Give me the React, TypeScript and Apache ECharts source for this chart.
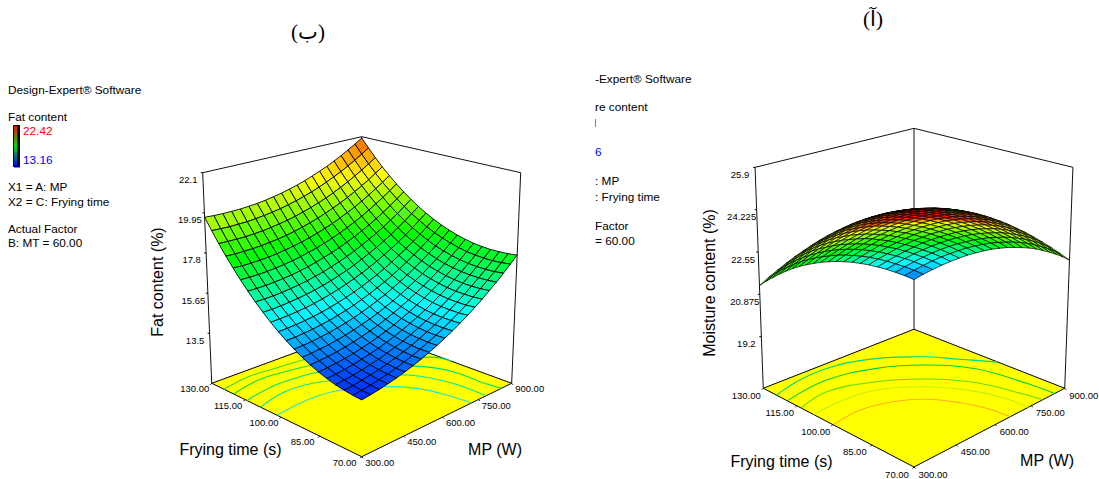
import React, { useEffect, useRef } from "react";
import * as echarts from "echarts";

const mpTicks = [300, 450, 600, 750, 900];
const timeTicks = [70, 85, 100, 115, 130];
const fatTicks = [13.5, 15.65, 17.8, 19.95, 22.1];
const moistureTicks = [19.2, 20.875, 22.55, 24.225, 25.9];

// rows: frying time 70 -> 130 s in 3 s steps; columns: MP 300 -> 900 W in 30 W steps
const fatContent = [
  [13.58,13.64,13.71,13.80,13.90,14.02,14.15,14.30,14.47,14.65,14.85,15.06,15.29,15.54,15.80,16.07,16.37,16.67,17.00,17.34,17.69],
  [13.61,13.66,13.73,13.81,13.91,14.02,14.16,14.30,14.46,14.64,14.83,15.04,15.27,15.51,15.76,16.03,16.32,16.62,16.94,17.28,17.63],
  [13.67,13.71,13.78,13.86,13.95,14.06,14.19,14.33,14.48,14.66,14.85,15.05,15.27,15.51,15.76,16.03,16.31,16.61,16.92,17.25,17.60],
  [13.75,13.80,13.85,13.93,14.02,14.12,14.25,14.38,14.53,14.70,14.89,15.09,15.30,15.53,15.78,16.04,16.32,16.62,16.93,17.25,17.59],
  [13.87,13.91,13.96,14.03,14.12,14.22,14.33,14.47,14.61,14.78,14.96,15.15,15.36,15.59,15.83,16.09,16.37,16.66,16.96,17.28,17.62],
  [14.01,14.05,14.10,14.16,14.24,14.34,14.45,14.58,14.72,14.88,15.06,15.25,15.46,15.68,15.92,16.17,16.44,16.73,17.03,17.34,17.67],
  [14.19,14.22,14.26,14.32,14.40,14.49,14.60,14.72,14.86,15.02,15.19,15.38,15.58,15.80,16.03,16.28,16.54,16.82,17.12,17.43,17.76],
  [14.39,14.42,14.46,14.51,14.59,14.67,14.78,14.90,15.03,15.18,15.35,15.53,15.73,15.94,16.17,16.41,16.67,16.95,17.24,17.55,17.87],
  [14.63,14.65,14.68,14.74,14.80,14.89,14.98,15.10,15.23,15.38,15.54,15.71,15.91,16.12,16.34,16.58,16.84,17.11,17.39,17.70,18.02],
  [14.89,14.90,14.94,14.98,15.05,15.12,15.22,15.33,15.45,15.60,15.75,15.93,16.11,16.32,16.54,16.77,17.03,17.29,17.58,17.87,18.19],
  [15.18,15.19,15.22,15.26,15.32,15.39,15.48,15.59,15.71,15.85,16.00,16.17,16.35,16.55,16.77,17.00,17.25,17.51,17.79,18.08,18.39],
  [15.50,15.51,15.53,15.57,15.62,15.69,15.78,15.88,16.00,16.13,16.28,16.44,16.62,16.81,17.03,17.25,17.49,17.75,18.03,18.32,18.62],
  [15.85,15.85,15.87,15.91,15.96,16.02,16.10,16.20,16.31,16.44,16.58,16.74,16.92,17.11,17.31,17.54,17.77,18.03,18.30,18.58,18.88],
  [16.23,16.23,16.24,16.27,16.32,16.38,16.45,16.55,16.65,16.78,16.92,17.07,17.24,17.43,17.63,17.85,18.08,18.33,18.59,18.88,19.17],
  [16.64,16.63,16.64,16.67,16.71,16.76,16.84,16.92,17.03,17.15,17.28,17.43,17.60,17.78,17.98,18.19,18.42,18.66,18.92,19.20,19.49],
  [17.08,17.07,17.07,17.09,17.13,17.18,17.25,17.33,17.43,17.54,17.67,17.82,17.98,18.16,18.35,18.56,18.79,19.03,19.28,19.55,19.84],
  [17.55,17.53,17.53,17.55,17.58,17.62,17.69,17.77,17.86,17.97,18.10,18.24,18.39,18.57,18.76,18.96,19.18,19.42,19.67,19.93,20.22],
  [18.04,18.02,18.02,18.03,18.06,18.10,18.16,18.23,18.32,18.43,18.55,18.69,18.84,19.01,19.19,19.39,19.61,19.84,20.08,20.35,20.62],
  [18.57,18.55,18.54,18.54,18.57,18.60,18.66,18.73,18.81,18.91,19.03,19.16,19.31,19.47,19.65,19.85,20.06,20.29,20.53,20.79,21.06],
  [19.13,19.10,19.08,19.09,19.10,19.14,19.19,19.25,19.33,19.43,19.54,19.67,19.81,19.97,20.15,20.34,20.54,20.77,21.00,21.26,21.53],
  [19.71,19.68,19.66,19.66,19.67,19.70,19.74,19.80,19.88,19.97,20.08,20.20,20.34,20.50,20.67,20.85,21.06,21.27,21.51,21.76,22.02],
];

const moistureContent = [
  [23.90,23.96,24.00,24.03,24.04,24.04,24.03,23.99,23.95,23.89,23.81,23.72,23.61,23.49,23.36,23.21,23.04,22.86,22.67,22.46,22.23],
  [23.91,23.97,24.02,24.06,24.08,24.08,24.07,24.05,24.01,23.95,23.89,23.80,23.70,23.59,23.46,23.32,23.16,22.98,22.79,22.59,22.37],
  [23.90,23.97,24.03,24.07,24.10,24.11,24.11,24.09,24.05,24.01,23.94,23.87,23.77,23.67,23.55,23.41,23.26,23.09,22.91,22.71,22.50],
  [23.88,23.95,24.02,24.07,24.10,24.12,24.12,24.11,24.09,24.05,23.99,23.92,23.83,23.73,23.62,23.49,23.34,23.18,23.01,22.82,22.61],
  [23.84,23.92,23.99,24.05,24.09,24.12,24.13,24.12,24.10,24.07,24.02,23.96,23.88,23.78,23.68,23.55,23.41,23.26,23.09,22.91,22.71],
  [23.79,23.88,23.95,24.02,24.06,24.10,24.11,24.12,24.10,24.08,24.04,23.98,23.91,23.82,23.72,23.60,23.47,23.32,23.16,22.99,22.80],
  [23.72,23.82,23.90,23.97,24.02,24.06,24.09,24.10,24.09,24.07,24.04,23.99,23.92,23.84,23.75,23.64,23.51,23.37,23.22,23.05,22.86],
  [23.64,23.74,23.83,23.91,23.97,24.02,24.05,24.06,24.06,24.05,24.02,23.98,23.92,23.85,23.76,23.66,23.54,23.41,23.26,23.10,22.92],
  [23.54,23.65,23.75,23.83,23.90,23.95,23.99,24.01,24.02,24.01,23.99,23.96,23.90,23.84,23.76,23.66,23.55,23.42,23.28,23.13,22.96],
  [23.43,23.55,23.65,23.74,23.82,23.88,23.92,23.95,23.96,23.96,23.95,23.92,23.87,23.82,23.74,23.65,23.55,23.43,23.29,23.15,22.98],
  [23.30,23.43,23.54,23.63,23.72,23.78,23.83,23.87,23.89,23.90,23.89,23.87,23.83,23.78,23.71,23.63,23.53,23.42,23.29,23.15,22.99],
  [23.16,23.29,23.41,23.51,23.60,23.68,23.73,23.78,23.80,23.82,23.82,23.80,23.77,23.72,23.66,23.59,23.50,23.39,23.27,23.14,22.99],
  [23.00,23.14,23.27,23.38,23.47,23.55,23.62,23.67,23.70,23.72,23.73,23.72,23.69,23.66,23.60,23.53,23.45,23.35,23.24,23.11,22.96],
  [22.83,22.98,23.11,23.23,23.33,23.42,23.49,23.54,23.59,23.61,23.63,23.62,23.61,23.57,23.53,23.46,23.39,23.29,23.19,23.07,22.93],
  [22.65,22.80,22.94,23.06,23.17,23.26,23.34,23.41,23.46,23.49,23.51,23.51,23.50,23.48,23.44,23.38,23.31,23.23,23.13,23.01,22.88],
  [22.45,22.61,22.75,22.88,23.00,23.10,23.18,23.25,23.31,23.35,23.38,23.39,23.38,23.36,23.33,23.28,23.22,23.14,23.05,22.94,22.82],
  [22.23,22.40,22.55,22.69,22.81,22.92,23.01,23.09,23.15,23.20,23.23,23.25,23.25,23.24,23.21,23.17,23.11,23.04,22.95,22.85,22.74],
  [22.00,22.17,22.33,22.48,22.60,22.72,22.82,22.90,22.97,23.03,23.07,23.09,23.10,23.09,23.07,23.04,22.99,22.93,22.85,22.75,22.64],
  [21.75,21.94,22.10,22.25,22.39,22.51,22.61,22.70,22.78,22.84,22.89,22.92,22.94,22.94,22.93,22.90,22.85,22.80,22.72,22.64,22.53],
  [21.50,21.68,21.85,22.01,22.16,22.28,22.40,22.49,22.58,22.64,22.70,22.74,22.76,22.77,22.76,22.74,22.70,22.65,22.59,22.51,22.41],
  [21.22,21.42,21.59,21.76,21.91,22.04,22.16,22.27,22.36,22.43,22.49,22.54,22.57,22.58,22.58,22.57,22.54,22.49,22.43,22.36,22.27],
];

// contours on the floor: [MP list, time list]
const fatContours = [
  { mp: [300,434,529,640,685,711,720], time: [101.6,102.8,100.8,92.8,86.7,78,70], color: "#19e6d2" },
  { mp: [300,397,479,548,642,736,773,785,784], time: [108.4,111,110.5,107.6,101.8,94.5,85.8,78.2,70], color: "#00e8a0" },
  { mp: [300,405,489,560,690,811,845,845,852], time: [114.2,116.3,115.9,114.5,107.8,95.4,86.8,77,70], color: "#00e070" },
  { mp: [300,407,499,586,732,887,900], time: [120,122.4,121.4,119.4,112,97.6,92.4], color: "#10dc40" },
  { mp: [300,402,495,600,732,828], time: [124.4,126.2,125.3,124,119.8,112], color: "#40dc20" },
];
const moistureContours = [
  { mp: [300,405,502,577,626,653,661], time: [99.8,101,98.2,92.7,84.9,77.6,70], color: "#ffb020" },
  { mp: [300,412,518,632,709,736,737], time: [107.8,108.6,106.7,98.1,86.1,76.2,70], color: "#c0ee10" },
  { mp: [300,412,554,668,751,787,800], time: [113.1,115.7,110.5,101.6,89.9,76.9,70], color: "#60dc10" },
  { mp: [300,460,615,735,820,849,854], time: [119.1,121.4,117,108.2,95.9,79.6,70], color: "#00d040" },
  { mp: [300,448,616,763,835,900], time: [124,127.4,124.5,113.7,104,94.6], color: "#00d880" },
];

const FONT = "'Liberation Sans', Arial, sans-serif";
const SERIF = "'Liberation Serif', 'DejaVu Sans', serif";
const rgb = (c: number[]) => `rgb(${c.map(Math.round).join(",")})`;
const rainbow = [[0,0,255],[0,255,255],[0,255,0],[255,255,0],[255,0,0]];

function mapColor(val: number, stops: number[]) {
  if (val <= stops[0]) return rgb(rainbow[0]);
  for (let k = 1; k < stops.length; k++) {
    if (val <= stops[k]) {
      const t = (val - stops[k-1]) / (stops[k] - stops[k-1]);
      return rgb(rainbow[k-1].map((c, q) => c + (rainbow[k][q] - c) * t));
    }
  }
  return rgb(rainbow[4]);
}

const panels = [
  {
    name: "fat", table: fatContent, contours: fatContours, zTicks: fatTicks,
    zFloor: 10.82, zTop: 22.1, cx: 361.7,
    Y0: 456.7, Yv: -9.4, p: 0.167, K: 175,
    T0: 224.7, Tv: -13.66, p2: 0.222, K2: 194.3,
    stops: [13.2, 15.5, 17.8, 20.3, 23], tiltV: 0, tiltU: 0, mesh: 0.9,
    zLabelDy: 7, floorDy: 5.5, floorDxL: -17, floorDxR: 18, zOff: -14.5,
  },
  {
    name: "moisture", table: moistureContent, contours: moistureContours, zTicks: moistureTicks,
    zFloor: 17.16, zTop: 25.9, cx: 914,
    Y0: 467, Yv: -13.9, p: 0.167, K: 175.9,
    T0: 224, Tv: -18.7, p2: 0.227, K2: 195,
    stops: [22.3, 26, 29.1, 32.5, 33.9], tiltV: 10, tiltU: 2.2, mesh: 0.7,
    zLabelDy: 7, floorDy: 7, floorDxL: -17, floorDxR: 19, zOff: -15,
  },
];

type Panel = (typeof panels)[number];

function project(P: Panel, a: number, b: number, c: number) {
  const v = a + b, u = a - b;
  const wF = 1 + P.p * v, wT = 1 + P.p2 * v;
  const xF = (P.K * u) / wF, yF = (P.Y0 + P.Yv * v) / wF;
  const xT = (P.K2 * u) / wT, yT = (P.T0 + P.Tv * v) / wT;
  return [P.cx + xF + (xT - xF) * c, yF + (yT - yF) * c];
}
const normA = (mp: number) => (mp - 300) / 600;
const normB = (t: number) => (t - 70) / 60;

function customSeries(z: number, data: any[], renderItem: any) {
  return { type: "custom", coordinateSystem: "cartesian2d", silent: true, clip: false, z, data, renderItem, animation: false };
}

function buildPanel(P: Panel) {
  const zc = (val: number) => (val - P.zFloor) / (P.zTop - P.zFloor);
  const series: any[] = [];

  series.push(customSeries(2, [0], (_: any, api: any) => ({
    type: "polygon",
    shape: { points: [[0,0],[1,0],[1,1],[0,1]].map(([a,b]) => api.coord(project(P,a,b,0))) },
    style: { fill: "#ffff00", stroke: "#000", lineWidth: 1 },
  })));

  const edges = [
    [[0,1,0],[0,1,1]], [[1,0,0],[1,0,1]], [[1,1,0],[1,1,1]],
    [[0,1,1],[1,1,1]], [[1,0,1],[1,1,1]],
  ];
  series.push(customSeries(3, edges, (params: any, api: any) => {
    const e = edges[params.dataIndex];
    const s = api.coord(project(P, e[0][0], e[0][1], e[0][2]));
    const t = api.coord(project(P, e[1][0], e[1][1], e[1][2]));
    return { type: "line", shape: { x1: s[0], y1: s[1], x2: t[0], y2: t[1] }, style: { stroke: "#111", lineWidth: 1 } };
  }));

  series.push(customSeries(4, P.contours, (params: any, api: any) => {
    const ct = P.contours[params.dataIndex];
    const pts = ct.mp.map((m, k) => api.coord(project(P, normA(m), normB(ct.time[k]), 0)));
    return { type: "polyline", shape: { points: pts, smooth: 0.4 }, style: { stroke: ct.color, lineWidth: 1.1, fill: "none" } };
  }));

  const cells: number[][] = [];
  for (let i = 0; i < 20; i++) for (let j = 0; j < 20; j++) cells.push([i, j]);
  cells.sort((m, n) => n[0] + n[1] - (m[0] + m[1]));
  series.push(customSeries(5, cells, (params: any, api: any) => {
    const [i, j] = cells[params.dataIndex];
    const corners = [[i,j],[i+1,j],[i+1,j+1],[i,j+1]];
    let sum = 0;
    const pts = corners.map(([ci, cj]) => {
      const val = P.table[cj][ci];
      const a = ci / 20, b = cj / 20;
      sum += val + P.tiltV * Math.min(a + b, 1) - P.tiltU * (a - b) * (a - b);
      return api.coord(project(P, a, b, zc(val)));
    });
    return { type: "polygon", shape: { points: pts }, style: { fill: mapColor(sum / 4, P.stops), stroke: "#000", lineWidth: P.mesh } };
  }));

  const tickSegs: number[][][] = [];
  timeTicks.forEach((t) => { const q = project(P, 0, normB(t), 0); tickSegs.push([q, [q[0] - 1.5, q[1] + 1.5]]); });
  mpTicks.forEach((m) => { const q = project(P, normA(m), 0, 0); tickSegs.push([q, [q[0] + 1.5, q[1] + 1.5]]); });
  P.zTicks.forEach((val) => { const q = project(P, 0, 1, zc(val)); tickSegs.push([q, [q[0] - 2, q[1]]]); });
  series.push(customSeries(6, tickSegs, (params: any, api: any) => {
    const s = tickSegs[params.dataIndex];
    const m = api.coord(s[0]), n = api.coord(s[1]);
    return { type: "line", shape: { x1: m[0], y1: m[1], x2: n[0], y2: n[1] }, style: { stroke: "#000", lineWidth: 1 } };
  }));

  const labels: { text: string; at: number[] }[] = [];
  timeTicks.forEach((t) => {
    const q = project(P, 0, normB(t), 0);
    labels.push({ text: t.toFixed(2), at: [q[0] + P.floorDxL, q[1] + P.floorDy] });
  });
  mpTicks.forEach((m) => {
    const q = project(P, normA(m), 0, 0);
    labels.push({ text: m.toFixed(2), at: [q[0] + P.floorDxR, q[1] + P.floorDy] });
  });
  P.zTicks.forEach((val) => {
    const q = project(P, 0, 1, zc(val));
    labels.push({ text: String(val), at: [q[0] + P.zOff, q[1] + P.zLabelDy] });
  });
  series.push(customSeries(7, labels, (params: any, api: any) => {
    const L = labels[params.dataIndex];
    const q = api.coord(L.at);
    return {
      type: "text",
      style: { text: L.text, x: q[0], y: q[1], fill: "#000", fontSize: 9.5, fontFamily: FONT, align: "center", verticalAlign: "middle", textAlign: "center", textVerticalAlign: "middle" },
    };
  }));
  return series;
}

function txt(text: string, x: number, y: number, size = 11.8, fill = "#000", extra: any = {}) {
  return {
    type: "text", z: 20, silent: true, ...(extra.rotation !== undefined ? { x, y, rotation: extra.rotation } : { x, y }),
    style: { text, x: 0, y: 0, fill, fontSize: size, fontFamily: extra.family || FONT, align: extra.align || "left", verticalAlign: "middle", textAlign: extra.align || "left", textVerticalAlign: "middle" },
  };
}

const graphicElements: any[] = [
  txt("Design-Expert® Software", 8, 90),
  txt("Fat content", 8, 117),
  txt("22.42", 23, 131, 11.8, "#ff0000"),
  txt("13.16", 23, 160, 11.8, "#0000ff"),
  txt("X1 = A: MP", 8, 187),
  txt("X2 = C: Frying time", 8, 202),
  txt("Actual Factor", 8, 229),
  txt("B: MT = 60.00", 8, 243),
  { type: "rect", z: 20, silent: true, shape: { x: 13.5, y: 125.5, width: 6, height: 41 },
    style: { fill: new echarts.graphic.LinearGradient(0,0,0,1,[{offset:0,color:"#ff0000"},{offset:0.5,color:"#00dd00"},{offset:1,color:"#0000ff"}]), stroke: "#000", lineWidth: 1 } },
  { type: "line", z: 20, silent: true, shape: { x1: 18.5, y1: 126, x2: 18.5, y2: 166 }, style: { stroke: "#000", lineWidth: 2 } },
  { type: "line", z: 20, silent: true, shape: { x1: 14, y1: 167, x2: 20, y2: 167 }, style: { stroke: "#0000ff", lineWidth: 1 } },

  txt("-Expert® Software", 595, 79),
  txt("re content", 595, 107),
  { type: "rect", z: 20, silent: true, shape: { x: 595, y: 119, width: 1, height: 8 }, style: { fill: "#f05060" } },
  txt("6", 595, 152, 11.8, "#0000ff"),
  txt(": MP", 595, 181),
  txt(": Frying time", 595, 197),
  txt("Factor", 595, 226),
  txt("= 60.00", 595, 241),

  txt("(ب)", 308, 32, 21, "#000", { align: "center", family: SERIF }),
  txt("(آ)", 873, 19, 21, "#000", { align: "center", family: SERIF }),

  txt("Frying time (s)", 230.5, 449, 16, "#000", { align: "center" }),
  txt("MP (W)", 495, 449, 16, "#000", { align: "center" }),
  txt("Fat content (%)", 157, 282, 16, "#000", { align: "center", rotation: Math.PI / 2 }),
  txt("Frying time (s)", 781.5, 461, 16, "#000", { align: "center" }),
  txt("MP (W)", 1047, 460, 16, "#000", { align: "center" }),
  txt("Moisture content (%)", 709, 283, 16, "#000", { align: "center", rotation: Math.PI / 2 }),
];

export default function App() {
  const ref = useRef<HTMLDivElement>(null);
  useEffect(() => {
    document.body.style.margin = "0";
    const chart = echarts.init(ref.current!, null, { renderer: "svg" });
    chart.setOption({
      animation: false,
      backgroundColor: "#ffffff",
      grid: { left: 0, top: 0, width: 1099, height: 479 },
      xAxis: { type: "value", min: 0, max: 1099, show: false },
      yAxis: { type: "value", min: 0, max: 479, inverse: true, show: false },
      tooltip: { show: false },
      series: panels.flatMap(buildPanel),
      graphic: { elements: graphicElements },
    });
    return () => chart.dispose();
  }, []);
  return <div ref={ref} style={{ width: 1099, height: 479 }} />;
}
